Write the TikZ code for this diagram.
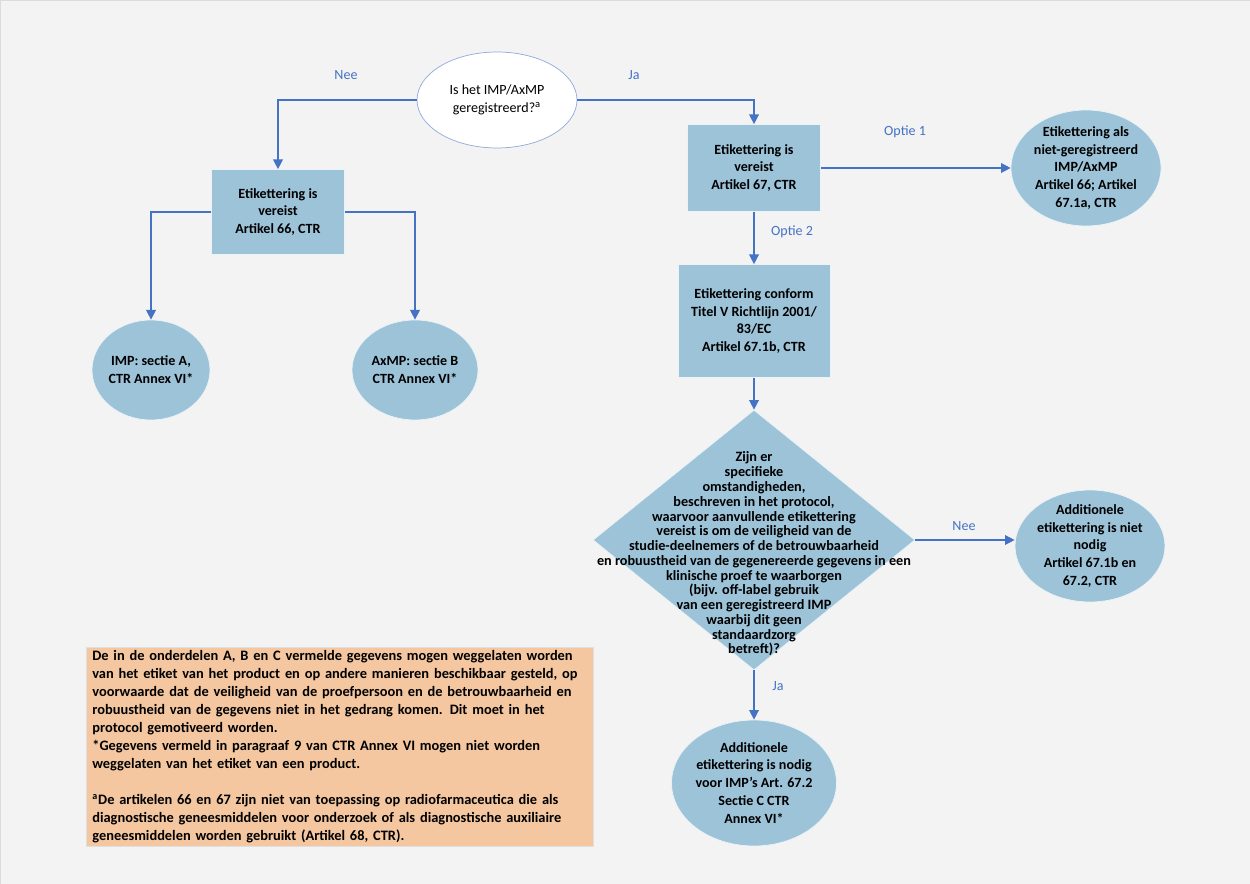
\documentclass[tikz,border=0pt]{standalone}
\usepackage{fontspec}
\setmainfont{Carlito}
\usetikzlibrary{shapes.geometric,arrows.meta}
\definecolor{boxblue}{HTML}{9DC3D9}
\definecolor{lineblue}{HTML}{4472C4}
\definecolor{ovalline}{HTML}{8FAADC}
\definecolor{peach}{HTML}{F4C7A0}
\definecolor{bggrey}{HTML}{F3F3F3}
\begin{document}
\begin{tikzpicture}[x=0.02cm,y=-0.02cm,
  box/.style={shape=rectangle, fill=boxblue, draw=white!80!boxblue, align=center, font=\bfseries\fontsize{8}{10.2}\selectfont},
  oval/.style={ellipse, fill=boxblue, draw=white!80!boxblue, inner sep=0pt},
  txt/.style={align=center, font=\bfseries\fontsize{8}{10.2}\selectfont},
  lbl/.style={text=lineblue, font=\fontsize{8}{10}\selectfont},
  arr/.style={-{Triangle[width=5.5pt,length=5.5pt]}, draw=lineblue, thick}
]
\useasboundingbox (0,0) rectangle (1250,884);
\draw[fill=bggrey, draw=black!14] (0,0) rectangle (1250,884);

%%%%%%%%%%%%%%%%%%%% Question %%%%%%%%%%%%%%%%%%%%%%%%%%
\node[ellipse, fill=white, draw=ovalline, minimum width=3.2cm, minimum height=1.92cm] (q1) at (497,100) {};
\node[align=center, font=\fontsize{8}{10.2}\selectfont] (q1t) at (q1.center) {Is het IMP/AxMP\\geregistreerd?\textsuperscript{a}};

%%%%%%%%%%%%%%%%%%%% Left branch %%%%%%%%%%%%%%%%%%%%%%%%%%
\node[box, minimum width=2.66cm, minimum height=1.7cm] (l1) at (278,212) {Etikettering is\\vereist\\Artikel 66, CTR};
\node[oval, minimum width=2.36cm, minimum height=2cm] (imp) at (151,370) {};
\node[txt] (impt) at (imp.center) {IMP: sectie A,\\CTR Annex VI*};
\node[oval, minimum width=2.52cm, minimum height=2cm] (axmp) at (415,370) {};
\node[txt] (axmpt) at (axmp.center) {AxMP: sectie B\\CTR Annex VI*};

%%%%%%%%%%%%%%%%%%%% Right branch %%%%%%%%%%%%%%%%%%%%%%%%%%
\node[box, minimum width=2.66cm, minimum height=1.74cm] (r1) at (754,168) {Etikettering is\\vereist\\Artikel 67, CTR};
\node[oval, minimum width=3cm, minimum height=2.32cm] (opt1) at (1086,168) {};
\node[txt] (opt1t) at (opt1.center) {Etikettering als\\niet-geregistreerd\\IMP/AxMP\\Artikel 66; Artikel\\67.1a, CTR};
\node[box, minimum width=3.04cm, minimum height=2.26cm] (r2) at (754,321) {Etikettering conform\\Titel V Richtlijn 2001/\\83/EC\\Artikel 67.1b, CTR};

%diamond
\node[diamond, fill=boxblue, draw=white!80!boxblue, inner sep=0pt, minimum width=6.44cm, minimum height=5.2cm] (q2) at (754,540) {};
\node[align=center, font=\bfseries\fontsize{8.1}{8.4}\selectfont] (q2t) at (754,554) {Zijn er\\specifieke\\omstandigheden,\\beschreven in het protocol,\\waarvoor aanvullende etikettering\\vereist is om de veiligheid van de\\studie-deelnemers of de betrouwbaarheid\\en robuustheid van de gegenereerde gegevens in een\\klinische proef te waarborgen\\(bijv. off-label gebruik\\van een geregistreerd IMP\\waarbij dit geen\\standaardzorg\\betreft)?};

\node[oval, minimum width=3cm, minimum height=2.24cm] (nee) at (1090,546) {};
\node[txt] (neet) at (nee.center) {Additionele\\etikettering is niet\\nodig\\Artikel 67.1b en\\67.2, CTR};
\node[oval, minimum width=3.3cm, minimum height=2.52cm] (ja) at (754,783) {};
\node[txt] (jat) at (ja.center) {Additionele\\etikettering is nodig\\voor IMP’s Art. 67.2\\Sectie C CTR\\Annex VI*};

%%%%%%%%%%%%%%%%%%%% Note %%%%%%%%%%%%%%%%%%%%%%%%%%
\node[shape=rectangle, anchor=north west, fill=peach, draw=black!12, minimum width=10.14cm, minimum height=3.9cm, text width=9.9cm, inner sep=2pt, align=left, font=\bfseries\fontsize{8.2}{10.24}\selectfont] (note) at (86,647) {De in de onderdelen A, B en C vermelde gegevens mogen weggelaten worden\\van het etiket van het product en op andere manieren beschikbaar gesteld, op\\voorwaarde dat de veiligheid van de proefpersoon en de betrouwbaarheid en\\robuustheid van de gegevens niet in het gedrang komen. Dit moet in het\\protocol gemotiveerd worden.\\{}*Gegevens vermeld in paragraaf 9 van CTR Annex VI mogen niet worden\\weggelaten van het etiket van een product.\\[10pt]\textsuperscript{a}De artikelen 66 en 67 zijn niet van toepassing op radiofarmaceutica die als\\diagnostische geneesmiddelen voor onderzoek of als diagnostische auxiliaire\\geneesmiddelen worden gebruikt (Artikel 68, CTR).};

%%%%%%%%%%%%%%%%%%%% Connectors %%%%%%%%%%%%%%%%%%%%%%%%%%
\draw[arr] (q1.west) -| (l1.north);
\draw[arr] (q1.east) -| (r1.north);
\draw[arr] (l1.west) -| (imp.north);
\draw[arr] (l1.east) -| (axmp.north);
\draw[arr] (r1.east) -- (opt1.west);
\draw[arr] (r1.south) -- (r2.north);
\draw[arr] (r2.south) -- (q2.north);
\draw[arr] (q2.east) -- (q2.east -| nee.west);
\draw[arr] (q2.south) -- (ja.north);

%labels
\node[lbl] (nee1) at (346,75) {Nee};
\node[lbl] (ja1) at (634,75) {Ja};
\node[lbl] (optie1) at (905,132) {Optie 1};
\node[lbl] (optie2) at (792,232) {Optie 2};
\node[lbl] (nee2) at (964,526) {Nee};
\node[lbl] (ja2) at (778,686) {Ja};

\end{tikzpicture}
\end{document}
